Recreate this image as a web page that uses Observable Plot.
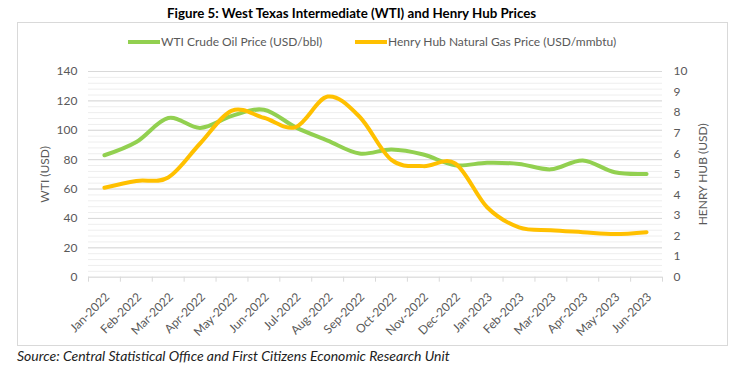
<!DOCTYPE html>
<html>
<head>
<meta charset="utf-8">
<script src="https://cdn.jsdelivr.net/npm/d3@7"></script>
<script src="https://cdn.jsdelivr.net/npm/@observablehq/plot@0.6"></script>
<style>
  body { margin: 0; background: #fff; }
  #wrap { position: relative; width: 744px; height: 372px; font-family: Lato, "Open Sans", sans-serif; overflow: hidden; }
  #title { position: absolute; left: 167px; top: 5px; font-size: 13.3px; font-weight: bold; color: #000; white-space: nowrap; }
  #box { position: absolute; left: 17px; top: 22px; width: 709px; height: 322px; border: 1px solid #d9d9d9; }
  #legend { position: absolute; top: 34px; left: 128px; font-size: 12px; color: #595959; white-space: nowrap; }
  .item { position: absolute; top: 0; display: flex; align-items: center; }
  .sw { width: 32px; height: 4px; margin-right: 1px; }
  #chart { position: absolute; left: 0; top: 55px; }
  #source { position: absolute; left: 17px; top: 347px; font-size: 14px; font-style: italic; color: #222; white-space: nowrap; }
</style>
</head>
<body>
<div id="wrap">
  <div id="title">Figure 5: West Texas Intermediate (WTI) and Henry Hub Prices</div>
  <div id="box"></div>
  <div id="legend"></div>
  <div id="chart"></div>
  <div id="source">Source: Central Statistical Office and First Citizens Economic Research Unit</div>
</div>
<script>
const months = ["Jan-2022","Feb-2022","Mar-2022","Apr-2022","May-2022","Jun-2022","Jul-2022","Aug-2022","Sep-2022","Oct-2022","Nov-2022","Dec-2022","Jan-2023","Feb-2023","Mar-2023","Apr-2023","May-2023","Jun-2023"];
const wti = [83, 92, 108.3, 101.6, 109.8, 114, 102, 93, 84.2, 86.9, 83.5, 76.2, 77.9, 77.1, 73.4, 79.4, 71.4, 70.3];
const henryHub = [4.35, 4.68, 4.85, 6.5, 8.1, 7.75, 7.3, 8.78, 7.8, 5.7, 5.4, 5.53, 3.4, 2.42, 2.28, 2.19, 2.1, 2.19];
const seriesNames = ["WTI Crude Oil Price (USD/bbl)", "Henry Hub Natural Gas Price (USD/mmbtu)"];
const colors = ["#92D050", "#FFC000"];
const leftTicks = [0, 20, 40, 60, 80, 100, 120, 140];
const rightTicks = [0, 1, 2, 3, 4, 5, 6, 7, 8, 9, 10];

const ratio = 140 / 10;
const idx = months.map((_, i) => i);
const wtiData = idx.map(i => ({x: i, y: wti[i]}));
const hhData = idx.map(i => ({x: i, y: henryHub[i] * ratio}));
const boundaries = d3.range(-0.5, months.length, 1);
const minor = d3.range(0, 141, 4);

// legend
const legend = document.getElementById("legend");
const offsets = [0, 227];
seriesNames.forEach((n, i) => {
  const it = document.createElement("div");
  it.className = "item";
  it.style.left = offsets[i] + "px";
  it.innerHTML = `<span class="sw" style="background:${colors[i]}"></span><span>${n}</span>`;
  legend.appendChild(it);
});

const tickStyle = {fontSize: 12, fill: "#595959"};
const chart = Plot.plot({
  width: 744,
  height: 290,
  marginLeft: 88,
  marginRight: 82,
  marginTop: 16,
  marginBottom: 68.3,
  style: {fontFamily: "Lato, 'Open Sans', sans-serif", fontSize: "12px", color: "#595959", background: "transparent"},
  x: {domain: [-0.5, months.length - 0.5], axis: null},
  y: {domain: [0, 140], axis: null},
  marks: [
    Plot.gridY(minor, {stroke: "#eeeeee", strokeOpacity: 1, strokeWidth: 1}),
    Plot.gridY(leftTicks, {stroke: "#d9d9d9", strokeOpacity: 1, strokeWidth: 1}),
    Plot.axisX(boundaries, {tickFormat: () => "", tickSize: 5, stroke: "#d9d9d9", strokeOpacity: 1, label: null}),
    Plot.axisX(idx, {tickSize: 0, tickFormat: i => months[i], tickRotate: -45, textAnchor: "end", dx: 3, dy: 6, label: null, ...tickStyle}),
    Plot.axisY(leftTicks, {anchor: "left", tickSize: 0, tickPadding: 11, ...tickStyle, label: "WTI (USD)", labelAnchor: "center", labelArrow: "none", labelOffset: 48}),
    Plot.axisY(rightTicks.map(d => d * ratio), {anchor: "right", tickSize: 0, tickPadding: 11, tickFormat: d => d / ratio, textAnchor: "start", ...tickStyle, label: "HENRY HUB (USD)", labelAnchor: "center", labelArrow: "none", labelOffset: 44}),
    Plot.line(wtiData, {x: "x", y: "y", stroke: colors[0], strokeWidth: 4, curve: "cardinal", tension: 0, strokeLinecap: "round"}),
    Plot.line(hhData, {x: "x", y: "y", stroke: colors[1], strokeWidth: 4, curve: "cardinal", tension: 0, strokeLinecap: "round"})
  ]
});
document.getElementById("chart").appendChild(chart);
</script>
</body>
</html>
